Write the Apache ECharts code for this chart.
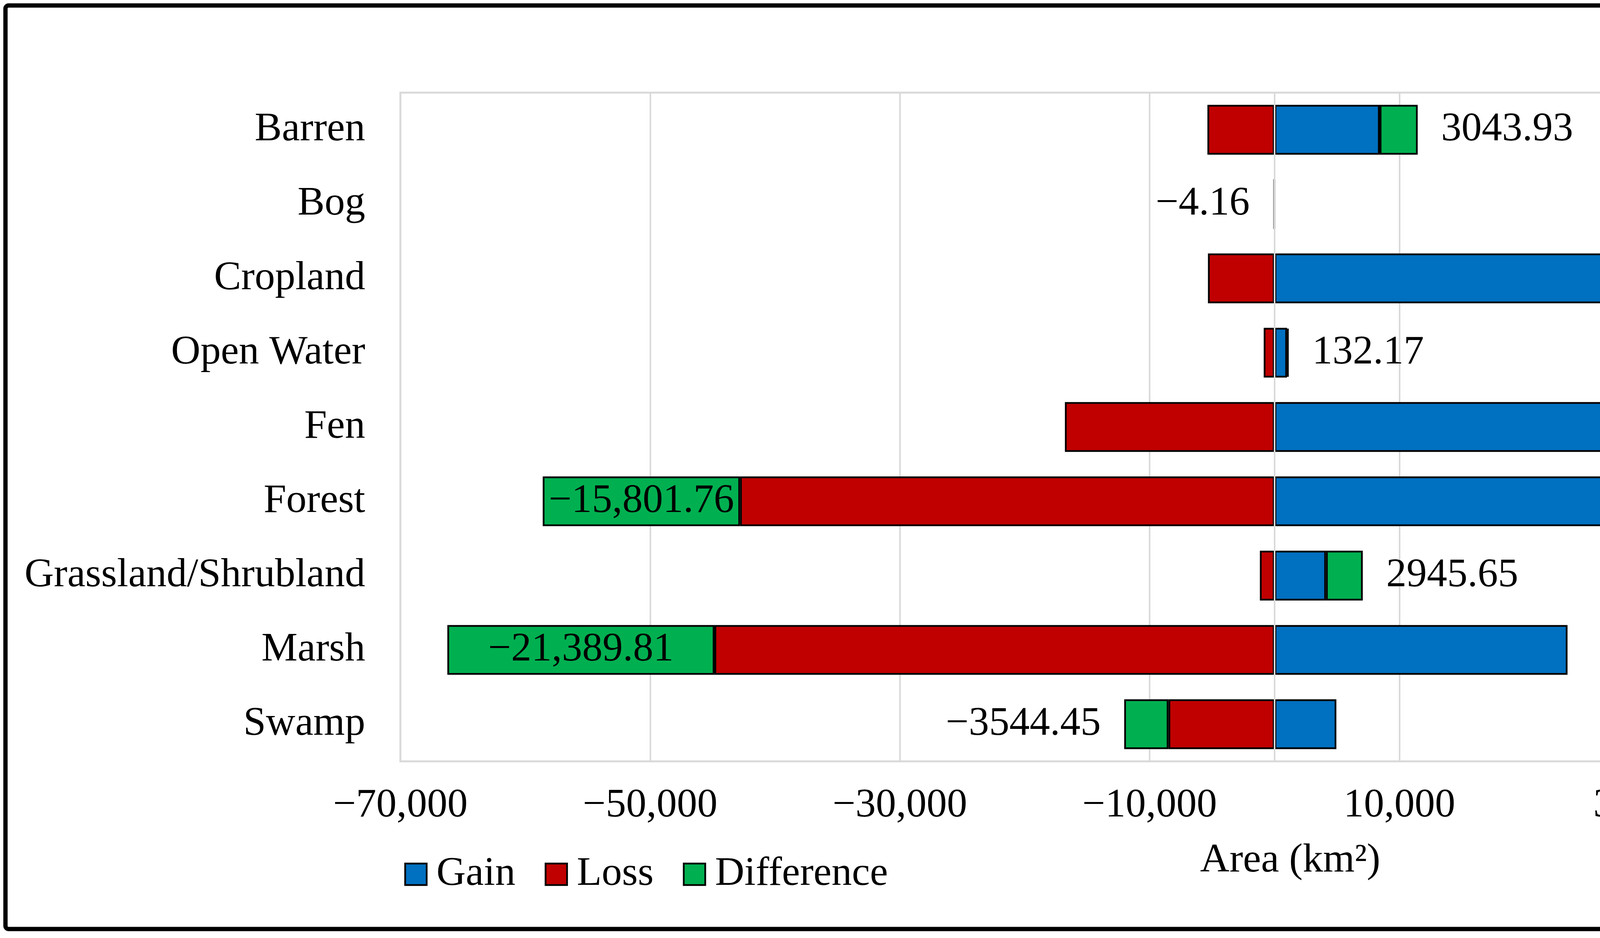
<!DOCTYPE html>
<html>
<head>
<meta charset="utf-8">
<script src="https://cdn.jsdelivr.net/npm/echarts@6/dist/echarts.min.js"></script>
<style>
html,body{margin:0;padding:0;background:#fff;}
#chart{width:5429px;height:2400px;}
</style>
</head>
<body>
<div id="chart"></div>
<script>
const categories = ['Barren', 'Bog', 'Cropland', 'Open Water', 'Fen', 'Forest', 'Grassland/Shrubland', 'Marsh', 'Swamp'];
const gain = [8420, 60, 29950, 1000, 26790, 26998.24, 4120, 23460.19, 4950];
const loss = [-5376.07, -64.16, -5333.29, -867.83, -16788.28, -42800, -1174.35, -44850, -8494.45];
const difference = [3043.93, -4.16, 24616.71, 132.17, 10001.72, -15801.76, 2945.65, -21389.81, -3544.45];
const xTicks = [-70000, -50000, -30000, -10000, 10000, 30000, 50000];
const seriesNames = ['Gain', 'Loss', 'Difference'];

const FONT = "'Liberation Serif', 'Times New Roman', serif";
const FS = 104;

function fmtNum(v, dec) {
  const a = Math.abs(v);
  let s = dec ? a.toFixed(2) : String(Math.round(a));
  if (a >= 10000) {
    const parts = s.split('.');
    s = parts[0].replace(/\B(?=(\d{3})+(?!\d))/g, ',') + (parts[1] ? '.' + parts[1] : '');
  }
  return (v < 0 ? '\u2212' : '') + s;
}

function items(arr, withLabel) {
  return arr.map(function (v) {
    const it = { value: v };
    if (Math.abs(v) < 100) {
      it.itemStyle = { borderColor: '#8c8c8c', borderWidth: 3 };
    }
    if (withLabel) {
      it.label = { position: Math.abs(v) > 12000 ? 'inside' : (v >= 0 ? 'right' : 'left') };
    }
    return it;
  });
}

const colors = ['#0070C0', '#C00000', '#00B050'];
const barBorder = { borderColor: '#000', borderWidth: 4.5 };

const chart = echarts.init(document.getElementById('chart'), null, { renderer: 'canvas' });

const option = {
  backgroundColor: '#fff',
  animation: false,
  color: colors,
  grid: {
    left: 1025, right: 248, top: 237, bottom: 452,
    show: true, borderColor: '#d9d9d9', borderWidth: 5, backgroundColor: 'transparent'
  },
  title: {
    text: 'Area (km\u00B2)',
    left: 3298, top: 2146, textAlign: 'center',
    textStyle: { fontFamily: FONT, fontSize: FS, fontWeight: 'normal', color: '#000' }
  },
  legend: {
    data: seriesNames,
    left: 1030, top: 2180,
    itemWidth: 55, itemHeight: 55, itemGap: 75,
    icon: 'rect',
    textStyle: { fontFamily: FONT, fontSize: FS, color: '#000', padding: [0, 0, 0, 20] },
    itemStyle: { borderColor: '#000', borderWidth: 4.5 }
  },
  xAxis: {
    type: 'value', min: -70000, max: 60000, interval: 10000,
    axisLine: { show: false }, axisTick: { show: false },
    axisLabel: {
      formatter: function (v) { return xTicks.indexOf(v) >= 0 ? fmtNum(v, false) : ''; },
      fontFamily: FONT, fontSize: FS, color: '#000', margin: 62
    },
    splitLine: { show: true, lineStyle: { color: ['#d9d9d9', 'rgba(0,0,0,0)'], width: 4 } }
  },
  yAxis: {
    type: 'category', data: categories, inverse: true,
    axisLine: { show: false }, axisTick: { show: false },
    axisLabel: { fontFamily: FONT, fontSize: FS, color: '#000', margin: 90 }
  },
  series: [
    {
      name: seriesNames[0], type: 'bar', stack: 'total', barCategoryGap: '33%',
      itemStyle: barBorder, data: items(gain, false)
    },
    {
      name: seriesNames[1], type: 'bar', stack: 'total', barCategoryGap: '33%',
      itemStyle: barBorder, data: items(loss, false)
    },
    {
      name: seriesNames[2], type: 'bar', stack: 'total', barCategoryGap: '33%',
      itemStyle: barBorder, data: items(difference, true),
      label: {
        show: true, fontFamily: FONT, fontSize: FS, color: '#000', distance: 60,
        formatter: function (p) { return fmtNum(p.value, true); }
      },
      markLine: {
        silent: true, symbol: 'none', animation: false,
        label: { show: false },
        lineStyle: { color: '#d9d9d9', width: 4, type: 'solid' },
        data: [{ xAxis: 0 }]
      }
    }
  ],
  graphic: [{
    type: 'rect', z: 100, silent: true,
    shape: { x: 14, y: 14, width: 5391, height: 2363, r: 8 },
    style: { fill: 'none', stroke: '#000', lineWidth: 11 }
  }]
};

chart.setOption(option);
</script>
</body>
</html>
